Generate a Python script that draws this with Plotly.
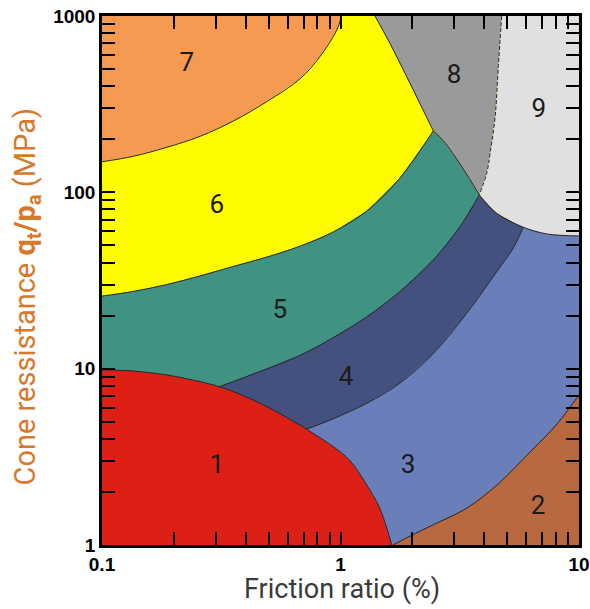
import plotly.graph_objects as go

# ---------------- data ----------------
# zone boundaries: friction ratio Fr (%) and cone resistance qt/pa
B67_fr = [0.1, 0.135, 0.187, 0.258, 0.356, 0.491, 0.676, 0.821, 0.964, 1.01]
B67_q = [149, 160, 180, 208, 254, 327, 440, 590, 830, 1000]

B56_fr = [0.1, 0.135, 0.187, 0.258, 0.355, 0.492, 0.676, 0.93, 1.29, 1.77, 2.45]
B56_q = [25.8, 27.4, 30.0, 33.6, 38.0, 43.0, 49.5, 59.5, 78.5, 120, 223]

B68_fr = [1.395, 1.61, 1.895, 2.15, 2.45]
B68_q = [1000, 701, 453, 320, 223]

B58_fr = [2.45, 2.70, 3.20, 3.82]
B58_q = [223, 196, 142, 96.7]

B89_fr = [4.74, 4.59, 4.45, 4.24, 4.10, 3.82]
B89_q = [1000, 516, 269, 167, 128, 96.7]

B9L_fr = [3.82, 4.52, 5.84, 7.32, 10]
B9L_q = [96.7, 76.1, 63.4, 58.1, 56.6]

B45_fr = [0.31, 0.676, 0.933, 1.29, 1.77, 2.45, 3.17, 3.82]
B45_q = [7.9, 11.9, 15.0, 19.7, 27.3, 41.4, 63.9, 96.7]

B34_fr = [0.72, 0.933, 1.29, 1.77, 2.45, 3.38, 4.52, 5.31, 5.84]
B34_q = [4.54, 5.20, 6.37, 8.26, 12.2, 20.6, 35.5, 48.5, 63.4]

B1_fr = [0.1, 0.135, 0.187, 0.258, 0.31, 0.356, 0.491, 0.676, 0.72, 0.933, 1.10, 1.28, 1.46, 1.64]
B1_q = [9.84, 9.70, 9.21, 8.44, 7.9, 7.41, 6.09, 4.79, 4.54, 3.61, 2.99, 2.22, 1.62, 1.0]

B23_fr = [1.66, 1.96, 2.44, 3.39, 4.53, 6.24, 8.09, 10]
B23_q = [1.0, 1.125, 1.30, 1.62, 2.19, 3.37, 4.86, 7.10]

# zone labels
zone_names = ["1", "2", "3", "4", "5", "6", "7", "8", "9"]
label_fr = [0.303, 6.73, 1.92, 1.055, 0.557, 0.303, 0.227, 2.99, 6.79]
label_q = [2.77, 1.64, 2.77, 8.85, 21, 82.6, 528, 451, 293]

# axis ticks
x_tickvals = [0.1, 0.2, 0.3, 0.4, 0.5, 0.6, 0.7, 0.8, 0.9, 1, 2, 3, 4, 5, 6, 7, 8, 9, 10]
x_ticktext = ["0.1"] + [""] * 8 + ["1"] + [""] * 8 + ["10"]
y_tickvals = [1, 2, 3, 4, 5, 6, 7, 8, 9, 10, 20, 30, 40, 50, 60, 70, 80, 90, 100,
              200, 300, 400, 500, 600, 700, 800, 900, 1000]
y_ticktext = ["1"] + [""] * 8 + ["10"] + [""] * 8 + ["100"] + [""] * 8 + ["1000"]

X_MIN, X_MAX = 0.1, 10
Y_MIN, Y_MAX = 1, 1000

colors = {
    "1": "#dc2016", "2": "#b8693f", "3": "#6a7eb9", "4": "#44517f",
    "5": "#409282", "6": "#fffc00", "7": "#f59a50", "8": "#9a9a9a", "9": "#e0e0e0",
}

# ---------------- polygons ----------------
polys = []
polys.append(("3", [X_MIN, X_MAX, X_MAX, X_MIN], [Y_MIN, Y_MIN, Y_MAX, Y_MAX]))
polys.append(("2", B23_fr + [X_MAX], B23_q + [Y_MIN]))
polys.append(("4", B34_fr + B9L_fr[3:] + [X_MAX, X_MIN, X_MIN],
              B34_q + B9L_q[3:] + [Y_MAX, Y_MAX, B34_q[0]]))
polys.append(("5", B45_fr + B9L_fr[1:] + [X_MAX, X_MIN, X_MIN],
              B45_q + B9L_q[1:] + [Y_MAX, Y_MAX, B1_q[0]]))
polys.append(("6", B56_fr + B58_fr[1:] + B9L_fr[1:] + [X_MAX, X_MIN],
              B56_q + B58_q[1:] + B9L_q[1:] + [Y_MAX, Y_MAX]))
polys.append(("7", B67_fr + [X_MIN], B67_q + [Y_MAX]))
polys.append(("8", B68_fr + B58_fr[1:] + B89_fr[::-1][1:],
              B68_q + B58_q[1:] + B89_q[::-1][1:]))
polys.append(("9", B89_fr + B9L_fr[1:] + [X_MAX], B89_q + B9L_q[1:] + [Y_MAX]))
polys.append(("1", B1_fr + [X_MIN], B1_q + [Y_MIN]))

fig = go.Figure()
for name, xs, ys in polys:
    fig.add_trace(go.Scatter(x=xs, y=ys, fill="toself", fillcolor=colors[name],
                             mode="lines", line=dict(width=0, color=colors[name]),
                             hoverinfo="skip", showlegend=False))

line_style = dict(color="#262626", width=1, shape="spline", smoothing=1.0)
for xs, ys in [(B67_fr, B67_q), (B56_fr, B56_q), (B68_fr, B68_q), (B58_fr, B58_q),
               (B9L_fr, B9L_q), (B45_fr, B45_q), (B34_fr, B34_q), (B1_fr, B1_q),
               (B23_fr, B23_q)]:
    fig.add_trace(go.Scatter(x=xs, y=ys, mode="lines", line=line_style,
                             hoverinfo="skip", showlegend=False))
fig.add_trace(go.Scatter(x=B89_fr, y=B89_q, mode="lines",
                         line=dict(color="#262626", width=1, dash="4px,2px",
                                   shape="spline", smoothing=1.0),
                         hoverinfo="skip", showlegend=False))

fig.add_trace(go.Scatter(x=label_fr, y=label_q, mode="text", text=zone_names,
                         textfont=dict(family="Roboto", size=26, color="#1a1a1a"),
                         hoverinfo="skip", showlegend=False))

axis_common = dict(
    type="log", tickmode="array", ticks="inside", ticklen=13, tickwidth=1.5,
    tickcolor="black", showline=True, linewidth=2.5, linecolor="black",
    mirror="ticks", showgrid=False, zeroline=False, automargin=False,
    tickfont=dict(family="Liberation Sans", size=19, color="black"),
)

fig.update_layout(
    width=590, height=609,
    margin=dict(l=102, r=11, t=16, b=64),
    paper_bgcolor="white", plot_bgcolor="white",
    xaxis=dict(range=[-1, 1], tickvals=x_tickvals,
               ticktext=["<b>%s</b>" % t if t else "" for t in x_ticktext],
               **axis_common),
    yaxis=dict(range=[0, 3], tickvals=y_tickvals,
               ticktext=["<b>%s</b>" % t if t else "" for t in y_ticktext],
               **axis_common),
    annotations=[
        dict(text="Friction ratio (%)", xref="paper", yref="paper",
             x=0.503, y=-0.0835, xanchor="center", yanchor="middle",
             showarrow=False, font=dict(family="Roboto", size=27, color="#3a3a3a")),
        dict(text="Cone ressistance <b>q<sub>t</sub>/p<sub>a</sub></b> (MPa)",
             xref="paper", yref="paper", x=-0.157, y=0.47, xanchor="center",
             yanchor="middle", textangle=-90, showarrow=False,
             font=dict(family="Roboto", size=29, color="#d8782a")),
    ],
)

fig.write_html("out.html", config={"displayModeBar": False},
               post_script="document.body.style.margin='0';document.body.style.overflow='hidden';")
